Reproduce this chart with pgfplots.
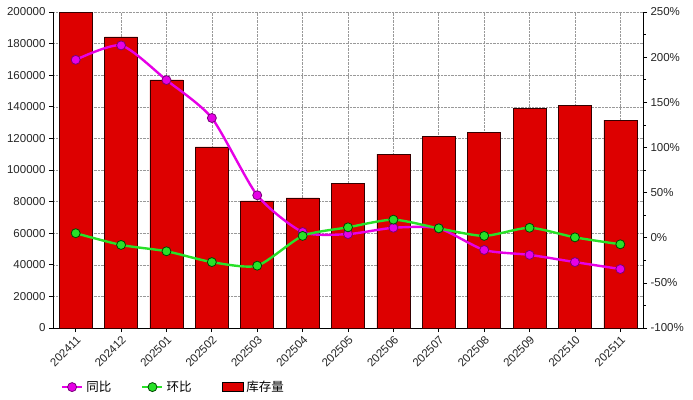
\documentclass[border=0pt]{standalone}
\usepackage{pgfplots}
\pgfplotsset{compat=1.18}
\usepackage{fontspec}
\setmainfont{Liberation Sans}
\newfontfamily\cjk{Noto Sans CJK SC}
\definecolor{barred}{RGB}{221,0,0}
\definecolor{mag}{RGB}{230,0,230}
\definecolor{magdark}{RGB}{120,0,120}
\definecolor{grn}{RGB}{40,225,40}
\definecolor{grndark}{RGB}{0,70,0}
\pgfplotsset{
  lineleg/.style={legend image code/.code={\draw[##1, mark repeat=2, mark phase=2] plot coordinates {(0pt,0pt) (10pt,0pt) (20pt,0pt)};}},
  rectleg/.style={legend image code/.code={\draw[##1] (0pt,-4.5pt) rectangle (21pt,4.5pt);}},
}
\begin{document}
\begin{tikzpicture}
\useasboundingbox (-53pt,-71pt) rectangle (640pt,328pt);
\begin{axis}[
  at={(0pt,0pt)}, anchor=south west,
  scale only axis, width=590pt, height=316pt,
  xmin=-0.5, xmax=12.5, ymin=0, ymax=200000,
  xtick={0,...,12},
  xticklabels={202411,202412,202501,202502,202503,202504,202505,202506,202507,202508,202509,202510,202511},
  x tick label style={rotate=45, anchor=north east, inner sep=2pt},
  ytick={0,20000,...,200000},
  scaled y ticks=false,
  /pgf/number format/assume math mode=true,
  yticklabel style={/pgf/number format/fixed, /pgf/number format/1000 sep={}},
  ticklabel style={font=\fontsize{11.5}{13}\selectfont, text=black!85},
  axis x line*=bottom, axis y line*=left,
  axis line style={-, line width=0.8pt},
  tick align=outside, major tick length=4pt,
  tick style={black, line width=0.7pt},
  grid=major, grid style={densely dotted, gray!80, line width=0.6pt},
  clip=false,
]
\addplot[ybar, bar width=33pt, fill=barred, draw=black!80!red, line width=0.6pt] coordinates {
(0,199500) (1,184200) (2,157000) (3,114600) (4,80400) (5,82300) (6,91600)
(7,110100) (8,121100) (9,124000) (10,139000) (11,141100) (12,131600)};
\end{axis}
\begin{axis}[
  at={(0pt,0pt)}, anchor=south west,
  scale only axis, width=590pt, height=316pt,
  xmin=-0.5, xmax=12.5, ymin=-100, ymax=250,
  axis x line=none, axis y line*=right,
  axis line style={-, line width=0.8pt},
  ytick={-100,-50,...,250},
  minor y tick num=1,
  /pgf/number format/assume math mode=true,
  yticklabel={\pgfmathprintnumber{\tick}\%},
  ticklabel style={font=\fontsize{11.5}{13}\selectfont, text=black!85},
  tick align=outside, major tick length=4pt, minor tick length=2.5pt,
  tick style={black, line width=0.7pt},
  legend columns=3,
  legend style={draw=none, fill=none, at={(axis description cs:0.013,-0.187)}, anchor=west,
    font=\cjk\fontsize{12.5}{14}\selectfont, inner xsep=0pt,
    /tikz/every even column/.append style={column sep=27pt},
    nodes={inner xsep=3pt}},
  legend cell align=left,
  clip=false,
]
\addplot[mag, line width=2.4pt, smooth, tension=0.4, mark=*, mark size=4.5pt,
  mark options={fill=mag, draw=magdark, line width=0.8pt}, lineleg] coordinates {
(0,197) (1,213) (2,174.6) (3,132.6) (4,47) (5,6.3) (6,4)
(7,11) (8,10.4) (9,-13.6) (10,-19) (11,-27) (12,-34.7)};
\addlegendentry{同比}
\addplot[grn, line width=2.4pt, smooth, tension=0.4, mark=*, mark size=4.5pt,
  mark options={fill=grn, draw=grndark, line width=0.8pt}, lineleg] coordinates {
(0,5) (1,-8) (2,-15) (3,-27) (4,-31) (5,2) (6,11.5)
(7,20) (8,10.4) (9,2) (10,11) (11,0.4) (12,-7.3)};
\addlegendentry{环比}
\addlegendimage{fill=barred, draw=black, line width=0.8pt, rectleg}
\addlegendentry{库存量}
\end{axis}
\end{tikzpicture}
\end{document}
